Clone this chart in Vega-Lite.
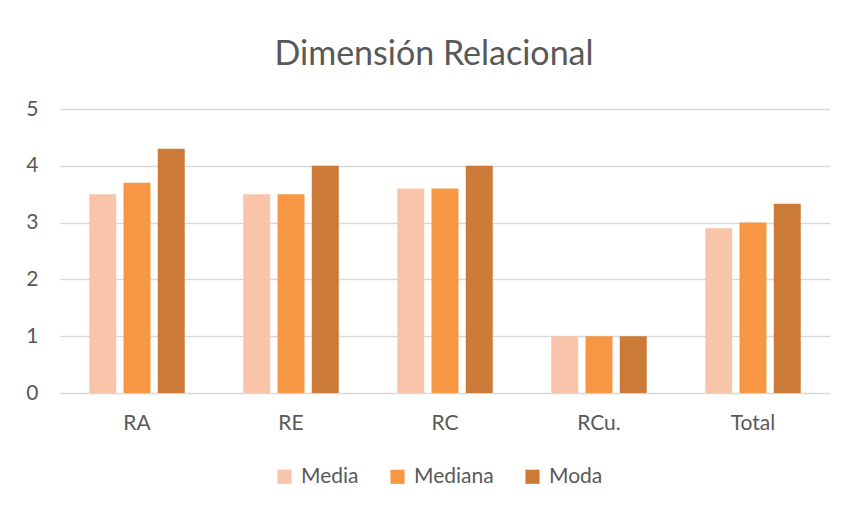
{
  "$schema": "https://vega.github.io/schema/vega-lite/v6.json",
  "width": 770,
  "height": 284,
  "autosize": "none",
  "padding": {"left": 60, "top": 109, "right": 16, "bottom": 118},
  "background": "white",
  "title": {"text": "Dimensión Relacional", "font": "Lato", "fontSize": 34, "fontWeight": "normal", "color": "#595959", "offset": 26, "dx": -11, "anchor": "middle", "frame": "group"},
  "data": {"values": [
    {"cat": "RA", "serie": "Media", "v": 3.5},
    {"cat": "RA", "serie": "Mediana", "v": 3.7},
    {"cat": "RA", "serie": "Moda", "v": 4.3},
    {"cat": "RE", "serie": "Media", "v": 3.5},
    {"cat": "RE", "serie": "Mediana", "v": 3.5},
    {"cat": "RE", "serie": "Moda", "v": 4.0},
    {"cat": "RC", "serie": "Media", "v": 3.6},
    {"cat": "RC", "serie": "Mediana", "v": 3.6},
    {"cat": "RC", "serie": "Moda", "v": 4.0},
    {"cat": "RCu.", "serie": "Media", "v": 1.0},
    {"cat": "RCu.", "serie": "Mediana", "v": 1.0},
    {"cat": "RCu.", "serie": "Moda", "v": 1.0},
    {"cat": "Total", "serie": "Media", "v": 2.9},
    {"cat": "Total", "serie": "Mediana", "v": 3.0},
    {"cat": "Total", "serie": "Moda", "v": 3.33}
  ]},
  "mark": {"type": "bar"},
  "encoding": {
    "x": {"field": "cat", "type": "nominal", "sort": ["RA", "RE", "RC", "RCu.", "Total"],
      "scale": {"paddingInner": 0.38, "paddingOuter": 0.19},
      "axis": {"title": null, "labelAngle": 0, "labelFont": "Lato", "labelFontSize": 21, "labelColor": "#595959", "labelPadding": 19, "ticks": false, "domain": false}},
    "xOffset": {"field": "serie", "type": "nominal", "sort": ["Media", "Mediana", "Moda"], "scale": {"paddingInner": 0.212, "paddingOuter": 0}},
    "y": {"field": "v", "type": "quantitative", "scale": {"domain": [0, 5], "nice": false},
      "axis": {"title": null, "values": [0, 1, 2, 3, 4, 5], "labelFont": "Lato", "labelFontSize": 21, "labelColor": "#595959", "labelPadding": 22, "ticks": false, "domain": false, "grid": true, "gridColor": "#d9d9d9", "gridWidth": 1.5}},
    "color": {"field": "serie", "type": "nominal", "sort": ["Media", "Mediana", "Moda"],
      "scale": {"domain": ["Media", "Mediana", "Moda"], "range": ["#f9c5aa", "#f79743", "#cb7b37"]},
      "legend": {"title": null, "orient": "none", "legendX": 214, "legendY": 357, "direction": "horizontal", "symbolType": "square", "symbolSize": 200, "labelFont": "Lato", "labelFontSize": 21, "labelColor": "#595959", "columnPadding": 28, "labelOffset": 6, "symbolOffset": 0}}
  },
  "config": {"view": {"stroke": null}}
}
